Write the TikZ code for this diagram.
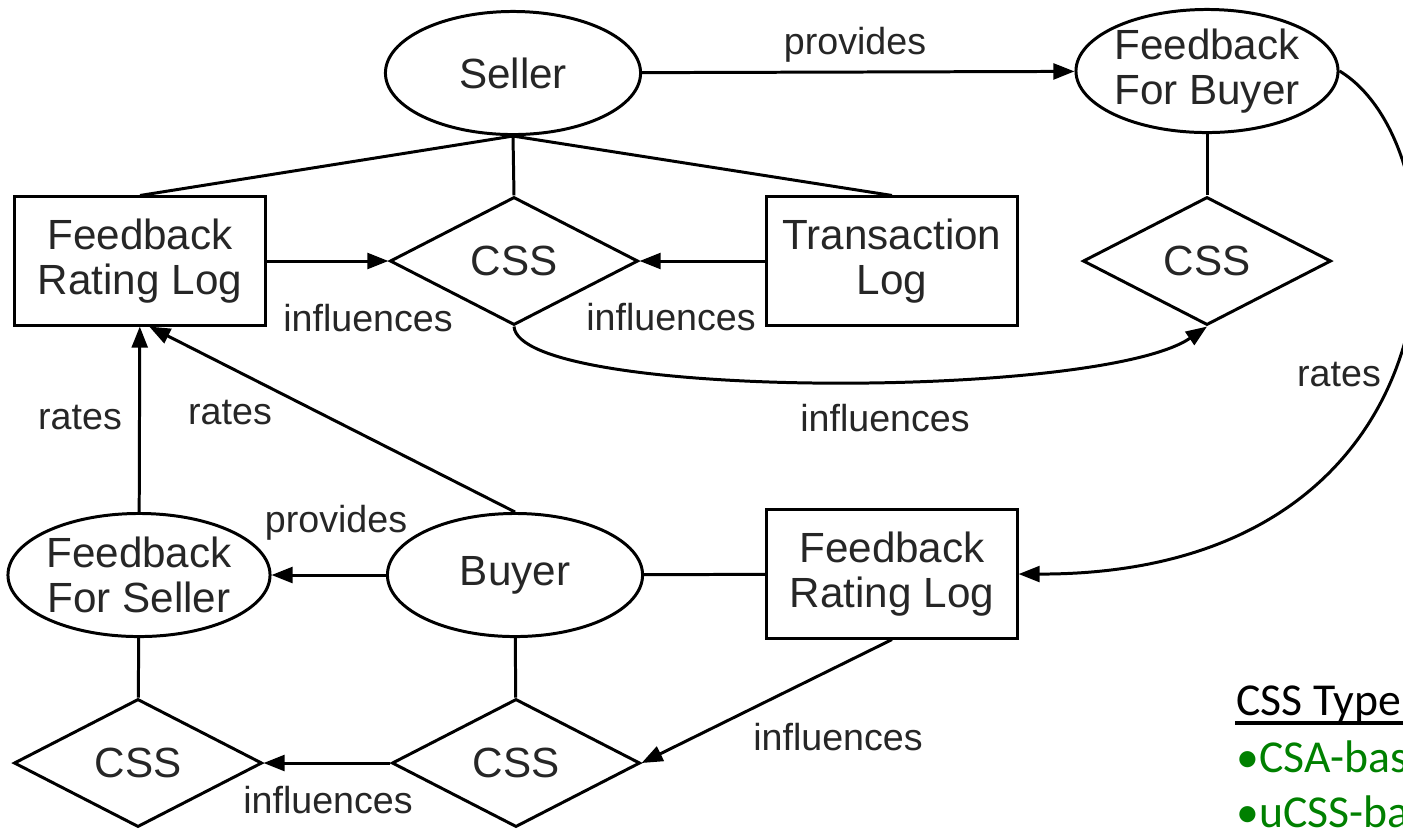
\documentclass[tikz,border=0pt]{standalone}
\usepackage{fontspec}
\setmainfont{Liberation Sans}
\newfontfamily\legendfont{Carlito}
\usepackage{xcolor}
\usepackage{tikz}
\usetikzlibrary{shapes,arrows,positioning,calc,arrows.meta}
\definecolor{legendgreen}{RGB}{0,128,0}

\begin{document}
\begin{tikzpicture}[x=0.01cm,y=-0.01cm,line width=0.85pt,
    actor/.style={ellipse,draw,minimum width=2.55cm,minimum height=1.23cm,inner sep=0pt,align=center,text=black!85,font=\fontsize{12}{13}\selectfont},
    logbox/.style={rectangle,draw,minimum width=2.5cm,minimum height=1.28cm,inner sep=0pt,align=center,text=black!85,font=\fontsize{12}{13}\selectfont},
    cssnode/.style={diamond,draw,minimum width=2.48cm,minimum height=1.28cm,inner sep=0pt,text=black!85,font=\fontsize{12}{13}\selectfont},
    flow/.style={-{Triangle[length=6pt,width=4.5pt]}},
    lbl/.style={inner sep=0pt,text=black!85,font=\fontsize{10.7}{12}\selectfont},
    legend/.style={anchor=base west,inner sep=0pt,font=\legendfont\fontsize{13}{15}\selectfont}]
    \useasboundingbox (0,0) rectangle (1403,829);
    \clip (0,0) rectangle (1403,829);

    % Seller side
    \node[actor] (seller) at (513,73) {Seller};
    \node[actor] (fbBuyer) at (1207,71) {Feedback\\For Buyer};
    \node[logbox] (rateLogA) at (140,261) {Feedback\\Rating Log};
    \node[cssnode] (cssSeller) at (514,261) {CSS};
    \node[logbox] (transLog) at (892,261) {Transaction\\Log};
    \node[cssnode] (cssFbBuyer) at (1207,261) {CSS};

    % Buyer side
    \node[actor] (fbSeller) at (139,575) {Feedback\\For Seller};
    \node[actor] (buyer) at (515,575) {Buyer};
    \node[logbox] (rateLogB) at (892,574) {Feedback\\Rating Log};
    \node[cssnode] (cssFbSeller) at (138,763) {CSS};
    \node[cssnode] (cssBuyer) at (516,763) {CSS};

    % Links
    \draw[flow] (seller) -- (fbBuyer);
    \draw (seller.south) -- (rateLogA.north);
    \draw (seller.south) -- (cssSeller.north);
    \draw (seller.south) -- (transLog.north);
    \draw (fbBuyer) -- (cssFbBuyer);
    \draw[flow] (rateLogA) -- (cssSeller);
    \draw[flow] (transLog) -- (cssSeller);
    \draw[flow] (cssSeller.south) .. controls (520,400) and (1100,400) .. (cssFbBuyer.south);
    \draw[flow] (fbBuyer.east) .. controls (1470,150) and (1475,575) .. (rateLogB.east);
    \draw[flow] (buyer) -- (fbSeller);
    \draw (buyer) -- (rateLogB);
    \draw[flow] (fbSeller) -- (rateLogA);
    \draw[flow] (buyer.north) -- (rateLogA.-82);
    \draw (fbSeller) -- (cssFbSeller);
    \draw (buyer) -- (cssBuyer);
    \draw[flow] (cssBuyer) -- (cssFbSeller);
    \draw[flow] (rateLogB.south) -- (cssBuyer.east);

    % Labels
    \node[lbl] (provTop) at (855,45) {provides};
    \node[lbl] (inflA) at (368,318) {influences};
    \node[lbl] (inflB) at (671,317) {influences};
    \node[lbl] (inflC) at (885,418) {influences};
    \node[lbl] (ratesR) at (1339,375) {rates};
    \node[lbl] (ratesL) at (80,418) {rates};
    \node[lbl] (ratesM) at (230,413) {rates};
    \node[lbl] (provBot) at (336,523) {provides};
    \node[lbl] (inflD) at (328,800) {influences};
    \node[lbl] (inflE) at (838,737) {influences};

    % CSS types
    \node[legend] (typeHead) at (1235,715) {CSS Type};
    \draw[line width=1.1pt] ($(typeHead.base west)+(0,8)$) -- ++(200,0);
    \node[legend,text=legendgreen] (typeA) at (1235,772) {•CSA-bas};
    \node[legend,text=legendgreen] (typeB) at (1235,827) {•uCSS-ba};
\end{tikzpicture}
\end{document}
